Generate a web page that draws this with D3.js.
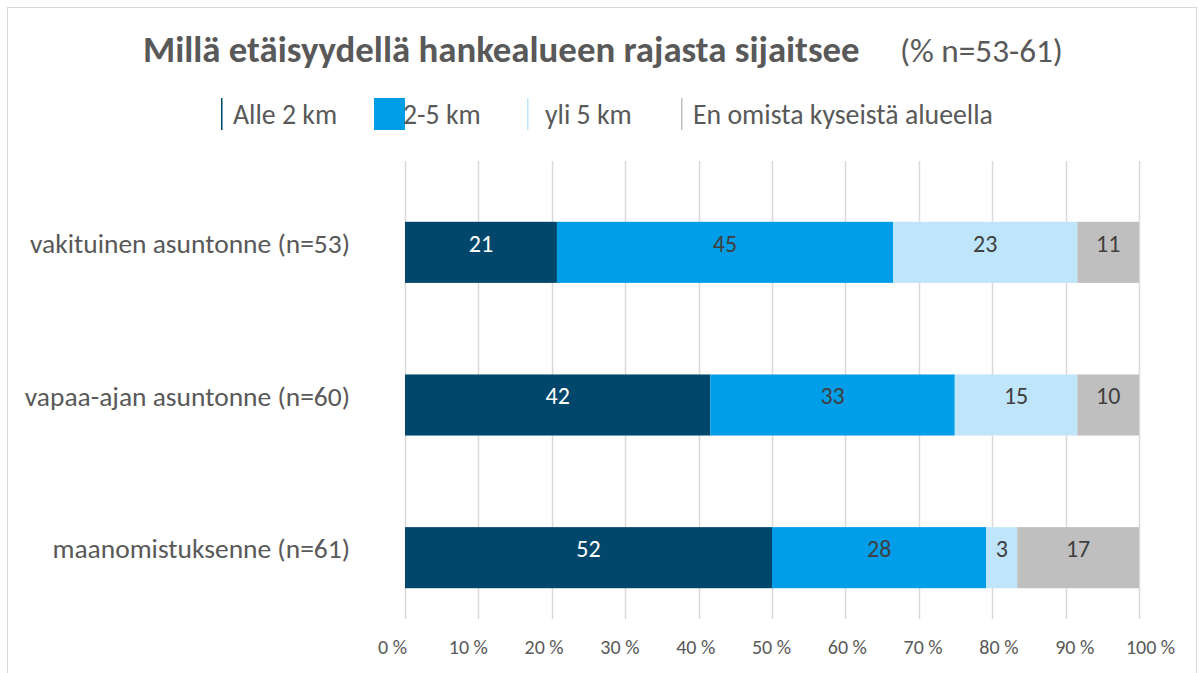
<!DOCTYPE html>
<html>
<head>
<meta charset="utf-8">
<script src="https://cdn.jsdelivr.net/npm/d3@7"></script>
<style>
  html, body { margin: 0; padding: 0; background: #fff; }
  svg { display: block; }
  text { font-family: Carlito, Calibri, Lato, "Open Sans", sans-serif; }
</style>
</head>
<body>
<svg id="chart" width="1199" height="673"></svg>
<script>
// ---- data ----
const categories = ["vakituinen asuntonne (n=53)", "vapaa-ajan asuntonne (n=60)", "maanomistuksenne (n=61)"];
const seriesNames = ["Alle 2 km", "2-5 km", "yli 5 km", "En omista kyseistä alueella"];
// segment widths (% of bar) as drawn
const alle2 = [20.7, 41.6, 50.0];
const v2to5 = [45.8, 33.3, 29.2];
const yli5  = [25.1, 16.7, 4.2];
const enOmista = [8.4, 8.4, 16.6];
// data labels as printed
const labelsAlle2 = ["21", "42", "52"];
const labels2to5 = ["45", "33", "28"];
const labelsYli5 = ["23", "15", "3"];
const labelsEnOmista = ["11", "10", "17"];
const tickValues = [0, 10, 20, 30, 40, 50, 60, 70, 80, 90, 100];
const tickLabels = ["0 %", "10 %", "20 %", "30 %", "40 %", "50 %", "60 %", "70 %", "80 %", "90 %", "100 %"];
const titleMain = "Millä etäisyydellä hankealueen rajasta sijaitsee";
const titleSub = "(% n=53-61)";

// ---- styles ----
const colors = ["#00476b", "#009de8", "#bfe5fb", "#bfbfbf"];
const labelColors = ["#ffffff", "#404040", "#404040", "#404040"];

const svg = d3.select("#chart");

function fit(sel, target, base) {
  const w = sel.node().getComputedTextLength();
  if (w > 0) sel.attr("font-size", base * target / w);
  return +sel.attr("font-size");
}

// outer border
svg.append("rect").attr("x", 7.5).attr("y", 7.5).attr("width", 1189).attr("height", 700)
  .attr("fill", "none").attr("stroke", "#d9d9d9").attr("stroke-width", 1);

const plotLeft = 405, plotRight = 1139, gridTop = 161, gridBottom = 619;
const x = d3.scaleLinear().domain([0, 100]).range([plotLeft, plotRight]);
// tick labels in the reference are spread slightly wider than the gridlines
const xLabel = d3.scaleLinear().domain([0, 100]).range([392, 1150]);
const y = d3.scaleBand().domain(categories).range([176, 634]).paddingInner(0.6).paddingOuter(0.3);

// gridlines
svg.append("g").selectAll("line").data(tickValues).join("line")
  .attr("x1", d => Math.round(x(d)) + 0.5).attr("x2", d => Math.round(x(d)) + 0.5)
  .attr("y1", gridTop).attr("y2", gridBottom)
  .attr("stroke", "#d9d9d9").attr("stroke-width", 1.5);

// x axis labels
const xAxis = d3.axisBottom(xLabel).tickValues(tickValues).tickSize(0)
  .tickFormat((d, i) => tickLabels[i]);
const gx = svg.append("g").attr("transform", `translate(0, 636)`).call(xAxis);
gx.select(".domain").remove();
gx.attr("font-size", null).attr("font-family", null);
gx.selectAll("text").attr("fill", "#595959").style("font-size", "20px").attr("dy", "0.32em").attr("y", 12)
  .style("font-family", "Carlito, Calibri, Lato, sans-serif");

// stacked data
const table = categories.map((c, i) => ({
  cat: c,
  "Alle 2 km": alle2[i], "2-5 km": v2to5[i], "yli 5 km": yli5[i], "En omista kyseistä alueella": enOmista[i]
}));
const labelSets = [labelsAlle2, labels2to5, labelsYli5, labelsEnOmista];
const stack = d3.stack().keys(seriesNames)(table);

const gBars = svg.append("g");
stack.forEach((layer, si) => {
  const g = gBars.append("g");
  g.selectAll("rect").data(layer).join("rect")
    .attr("x", d => x(d[0])).attr("width", d => x(d[1]) - x(d[0]))
    .attr("y", d => y(d.data.cat)).attr("height", y.bandwidth())
    .attr("fill", colors[si]);
  g.selectAll("text").data(layer).join("text")
    .attr("x", d => (x(d[0]) + x(d[1])) / 2)
    .attr("y", d => y(d.data.cat) + y.bandwidth() / 2 - 9)
    .attr("dy", "0.35em").attr("text-anchor", "middle")
    .attr("font-size", 24).attr("fill", labelColors[si])
    .text((d, i) => labelSets[si][i]);
});

// category labels
const catText = svg.append("g").selectAll("text").data(categories).join("text")
  .attr("x", 350).attr("y", d => y(d) + y.bandwidth() / 2 - 9).attr("dy", "0.35em")
  .attr("text-anchor", "end").attr("font-size", 22).attr("fill", "#595959")
  .text(d => d);
const catSize = fit(catText.filter((d, i) => i === 0), 320, 22);
catText.attr("font-size", catSize);

// title
const t1 = svg.append("text").attr("x", 143).attr("y", 62)
  .attr("font-size", 28).attr("font-weight", "bold").attr("fill", "#595959").text(titleMain);
fit(t1, 717, 28);
const t2 = svg.append("text").attr("x", 900).attr("y", 62)
  .attr("font-size", 26).attr("fill", "#595959").text(titleSub);
fit(t2, 163, 26);

// legend
const legendX = [221, 374, 527, 681];
const markerW = [1.5, 31, 1.5, 1.5];
const textX = [233, 403, 545, 693];
const lg = svg.append("g");
const legTexts = [];
seriesNames.forEach((name, i) => {
  lg.append("rect").attr("x", legendX[i]).attr("y", 98).attr("width", markerW[i]).attr("height", 32)
    .attr("fill", colors[i]);
  legTexts.push(lg.append("text").attr("x", textX[i]).attr("y", 114).attr("dy", "0.35em")
    .attr("font-size", 22).attr("fill", "#595959").text(name));
});
const legSize = fit(legTexts[3], 300, 22);
legTexts.forEach(t => t.attr("font-size", legSize));
</script>
</body>
</html>
